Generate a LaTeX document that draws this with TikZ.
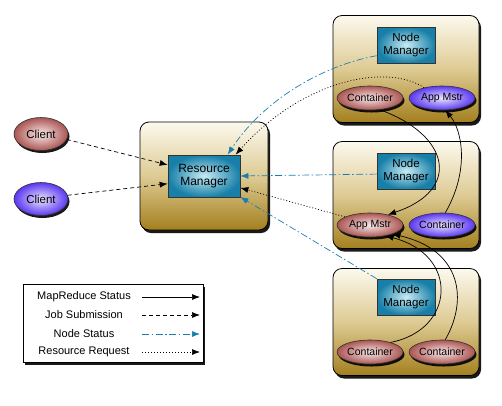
\documentclass[tikz,border=0pt]{standalone}
\usepackage{fontspec}
\setmainfont{Liberation Sans}
\usetikzlibrary{arrows.meta,shadows,shapes.geometric}
\definecolor{nsblue}{RGB}{25,125,178}
\definecolor{beigetop}{RGB}{252,249,238}
\definecolor{beigemid}{RGB}{222,203,148}
\definecolor{beigebot}{RGB}{163,127,30}
\definecolor{tealout}{RGB}{24,128,168}
\definecolor{tealin}{RGB}{200,235,245}
\definecolor{redout}{RGB}{170,85,82}
\definecolor{redin}{RGB}{250,235,235}
\definecolor{purout}{RGB}{90,55,240}
\definecolor{purin}{RGB}{235,230,255}
\tikzset{
  shadowed/.style={drop shadow={shadow xshift=2pt,shadow yshift=-3pt,opacity=0.9,fill=black}},
  hostbox/.style={draw=black,line width=0.8pt,rounded corners=9pt,
    top color=beigetop,bottom color=beigebot,middle color=beigemid,
    minimum width=146pt,minimum height=107pt,shadowed},
  mgrbox/.style={draw=black!80,line width=0.7pt,inner color=tealin,outer color=tealout,
    minimum width=58pt,minimum height=36pt,align=center,inner sep=1pt,
    font=\fontsize{11.5}{12.5}\selectfont},
  redell/.style={ellipse,draw=black!80,line width=0.6pt,inner color=redin,outer color=redout,
    minimum width=66pt,minimum height=24pt,inner sep=0pt,font=\fontsize{10.5}{11}\selectfont,
    drop shadow={shadow xshift=1.5pt,shadow yshift=-2.5pt,opacity=0.9,fill=black}},
  purell/.style={redell,inner color=purin,outer color=purout},
  clientell/.style={minimum width=54pt,minimum height=33pt,font=\fontsize{11.5}{12}\selectfont},
  arr/.style={-{Latex[length=8pt,width=6pt]},line width=0.7pt},
  mrstat/.style={arr,black},
  jobsub/.style={arr,black,dash pattern=on 4pt off 3pt},
  nodestat/.style={arr,nsblue,dash pattern=on 7pt off 2.5pt on 1.5pt off 2.5pt},
  resreq/.style={arr,black,dash pattern=on 1pt off 2pt},
  legtext/.style={anchor=center,font=\fontsize{11}{12}\selectfont,inner sep=0pt},
}
\begin{document}
\begin{tikzpicture}[x=1pt,y=-1pt]
\useasboundingbox (0,0) rectangle (502,405);
% host boxes
\node[hostbox,minimum width=128pt,minimum height=108pt] (rmbox) at (204,176) {};
\node[hostbox] (h1) at (406,69) {};
\node[hostbox] (h2) at (406,195) {};
\node[hostbox] (h3) at (406,322) {};
% managers
\node[mgrbox,minimum width=72pt,minimum height=42pt,font=\fontsize{12}{13.5}\selectfont] (rm) at (204,176) {Resource\\Manager};
\node[mgrbox] (nm1) at (406,45) {Node\\Manager};
\node[mgrbox] (nm2) at (406,171) {Node\\Manager};
\node[mgrbox] (nm3) at (406,297) {Node\\Manager};
% clients
\node[redell,clientell] (c1) at (41,134) {Client};
\node[purell,clientell] (c2) at (41,199) {Client};
% containers / app masters
\node[redell] (ct1) at (370,98) {Container};
\node[purell] (am1) at (442,98) {App Mstr};
\node[redell] (am2) at (370,225) {App Mstr};
\node[purell] (ct2) at (442,225) {Container};
\node[redell] (ct3a) at (370,352) {Container};
\node[redell] (ct3b) at (442,352) {Container};
% job submission
\draw[jobsub] (c1.-12) -- (rm.163);
\draw[jobsub] (c2.8) -- (rm.192);
% node status
\draw[nodestat] (nm1.200) .. controls (320,66) and (262,102) .. (rm.42);
\draw[nodestat] (nm2.186) -- (rm.east);
\draw[nodestat] (nm3.north west) -- (rm.-30);
% resource requests
\draw[resreq] (am1.150) .. controls (385,62) and (300,82) .. (rm.34);
\draw[resreq] (am2.162) -- (rm.-18);
% mapreduce status
\draw[mrstat] (ct1.-50) .. controls (450,135) and (462,190) .. (am2.30);
\draw[mrstat] (ct2.75) .. controls (470,170) and (462,130) .. (am1.-75);
\draw[mrstat] (ct3a.25) .. controls (455,330) and (460,255) .. (am2.-35);
\draw[mrstat] (ct3b.75) .. controls (468,300) and (462,250) .. (am2.-22);
% legend
\node[draw=black,line width=0.7pt,fill=white,minimum width=180pt,minimum height=78pt,shadowed] (leg) at (113,323) {};
\node[legtext] (l1) at (84,297) {MapReduce Status};
\node[legtext] (l2) at (84,315) {Job Submission};
\node[legtext] (l3) at (84,334) {Node Status};
\node[legtext] (l4) at (84,352) {Resource Request};
\coordinate (l1a) at (142,297); \coordinate (l1b) at (200,297);
\coordinate (l2a) at (142,315); \coordinate (l2b) at (200,315);
\coordinate (l3a) at (142,334); \coordinate (l3b) at (200,334);
\coordinate (l4a) at (142,352); \coordinate (l4b) at (200,352);
\draw[mrstat] (l1a) -- (l1b);
\draw[jobsub] (l2a) -- (l2b);
\draw[nodestat] (l3a) -- (l3b);
\draw[resreq] (l4a) -- (l4b);
\end{tikzpicture}
\end{document}
